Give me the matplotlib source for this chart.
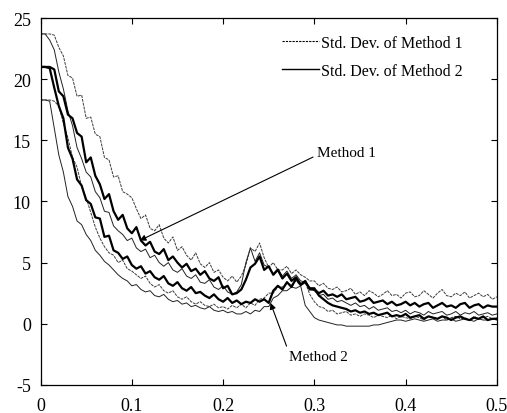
import numpy as np
import matplotlib
matplotlib.use("Agg")
import matplotlib.pyplot as plt
from matplotlib.lines import Line2D

plt.rcParams['font.family'] = ['Liberation Serif', 'DejaVu Serif']

# x ticks / y ticks
x_ticks = [0, 0.1, 0.2, 0.3, 0.4, 0.5]
x_tick_labels = ["0", "0.1", "0.2", "0.3", "0.4", "0.5"]
y_ticks = [-5, 0, 5, 10, 15, 20, 25]
y_tick_labels = ["-5", "0", "5", "10", "15", "20", "25"]

# Series sampled every 0.005 on x in [0, 0.5]
m1_upper = [23.7, 23.7, 23.7, 23.6, 22.6, 21.9, 20.3, 20.1, 18.6, 18.7,
            16.8, 16.9, 15.5, 15.3, 13.6, 13.4, 12.0, 12.1, 10.8, 10.6,
            10.3, 9.4, 8.6, 8.9, 7.8, 7.6, 8.1, 7.0, 6.6, 7.1,
            6.0, 6.3, 5.6, 5.2, 5.8, 4.9, 4.6, 5.0, 4.2, 4.4,
            3.8, 3.5, 3.9, 3.4,
            3.9, 4.8, 6.2, 5.9, 6.6, 5.4, 4.6, 5.0, 4.4, 4.4, 4.7, 4.1, 4.4, 4.0, 3.8, 3.5,
            3.5, 3.1, 3.3, 2.9, 2.8, 3.0, 2.6, 2.7, 2.9, 2.4,
            2.6, 2.3, 2.7, 2.5, 2.2, 2.4, 2.7, 2.3, 2.4, 2.1,
            2.5, 2.6, 2.2, 2.3, 2.7, 2.4, 2.1, 2.5, 2.8, 2.3,
            2.2, 2.5, 2.3, 2.6, 2.1, 2.3, 2.5, 2.2, 2.4, 2.0,
            2.2]
m1_mean = [21.0, 21.0, 21.0, 20.8, 19.0, 18.6, 17.1, 16.8, 15.6, 15.3,
           13.2, 13.6, 12.1, 11.4, 10.2, 10.6, 9.2, 8.5, 8.9, 7.8,
           7.4, 7.9, 6.8, 6.4, 6.7, 5.9, 5.7, 6.1, 5.2, 5.5,
           5.0, 4.6, 4.9, 4.3, 4.5, 4.0, 4.3, 3.7, 3.5, 3.8,
           2.9, 3.1, 2.4, 2.5,
           2.8, 3.6, 4.6, 4.9, 5.5, 4.4, 4.7, 4.0, 4.4, 3.7, 4.1, 3.5, 3.8, 3.2, 3.5, 2.8,
           2.8, 2.5, 2.7, 2.3, 2.4, 2.2, 2.4, 2.0, 2.1, 2.2,
           1.8, 1.9, 2.1, 1.7, 1.8, 1.9, 1.6, 1.8, 1.5, 1.6,
           1.8, 1.5, 1.7, 1.4, 1.6, 1.7, 1.3, 1.5, 1.7, 1.4,
           1.5, 1.3, 1.6, 1.7, 1.3, 1.5, 1.6, 1.3, 1.5, 1.4,
           1.4]
m2_upper = [23.7, 23.7, 23.2, 22.4, 20.6, 19.2, 17.4, 16.2, 14.4, 13.5,
            12.4, 12.0, 10.8, 10.3, 9.2, 9.1,
            8.0, 7.6, 7.3, 6.8, 7.0, 6.2, 5.9, 6.1, 5.4, 5.6,
            5.0, 4.7, 5.0, 4.4, 4.2, 4.5, 3.9, 3.7, 4.0, 3.4,
            3.3, 3.6, 3.0, 2.8, 3.1, 2.6, 2.4, 2.6,
            3.2, 5.0, 6.2, 5.1, 5.8, 4.8, 4.6, 4.1, 4.5, 3.9, 4.3, 3.7, 4.0, 3.5, 3.4, 2.9,
            2.7, 2.3, 2.4, 2.0, 2.1, 1.8, 1.9, 1.7, 1.5, 1.7,
            1.4, 1.5, 1.2, 1.4, 1.1, 1.2, 1.3, 1.0, 1.1, 0.9,
            1.1, 0.8, 1.0, 0.9, 0.7, 1.0, 0.8, 0.9, 1.0, 0.7,
            0.8, 1.0, 0.7, 0.9, 0.8, 1.0, 0.7, 0.8, 0.9, 0.7,
            0.8]
m2_mean = [21.0, 21.0, 20.9, 19.3, 17.8, 16.8, 14.4, 13.5, 11.8, 11.3,
           10.1, 9.8, 8.7, 8.6, 7.1, 7.2,
           6.0, 5.8, 5.3, 5.5, 4.8, 4.5, 4.7, 4.1, 4.3, 3.8,
           3.6, 3.9, 3.3, 3.1, 3.4, 2.9, 2.7, 3.0, 2.5, 2.6,
           2.3, 2.1, 2.4, 2.0, 1.8, 2.1, 1.7, 1.9, 1.6, 1.8,
           1.7, 2.0, 1.8, 2.0,
           1.7, 2.7, 3.1, 2.8, 3.4, 3.0, 3.7, 3.2, 3.4, 2.9,
           2.9, 2.3, 2.0, 1.7, 1.5, 1.4, 1.3, 1.2, 1.0, 1.1,
           0.9, 1.0, 0.8, 0.9, 0.7, 0.8, 0.9, 0.6, 0.7, 0.6,
           0.8, 0.5, 0.6, 0.7, 0.4, 0.6, 0.5, 0.4, 0.6, 0.5,
           0.3, 0.5, 0.6, 0.4, 0.3, 0.5, 0.4, 0.6, 0.3, 0.4,
           0.4]
m1_lower = [18.3, 18.3, 18.3, 18.2, 17.8, 16.4, 15.2, 13.6, 12.8, 11.2,
            10.3, 9.1, 7.9, 7.0, 6.3, 5.8, 5.6, 5.0, 5.2, 4.5,
            4.3, 4.0, 3.7, 3.9, 3.3, 3.0, 3.2, 2.7, 2.5, 2.7,
            2.2, 2.0, 2.2, 1.8, 1.6, 1.8, 1.5, 1.4, 1.6, 1.3,
            1.4, 1.2, 1.5, 1.3,
            1.6, 1.3, 1.7, 1.5, 2.0, 2.1, 2.5, 2.5, 3.0, 3.0, 3.3, 3.2, 3.5, 3.1, 3.4, 2.4,
            1.8, 1.4, 1.3, 1.0, 1.1, 0.8, 0.9, 1.0, 0.7, 0.8,
            0.6, 0.8, 0.7, 0.5, 0.7, 0.6, 0.5, 0.7, 0.4, 0.6,
            0.5, 0.4, 0.6, 0.5, 0.3, 0.6, 0.5, 0.4, 0.6, 0.3,
            0.5, 0.6, 0.4, 0.5, 0.3, 0.6, 0.4, 0.5, 0.6, 0.4,
            0.5]
m2_lower = [18.3, 18.3, 18.2, 16.0, 13.8, 12.4, 10.4, 9.6, 8.4, 8.1,
            7.3, 6.8, 6.0, 5.6, 5.1, 4.8, 4.4, 4.0, 3.7, 3.5,
            3.1, 3.2, 2.8, 2.6, 2.7, 2.3, 2.2, 2.4, 2.0, 1.8,
            1.9, 1.6, 1.7, 1.4, 1.5, 1.3, 1.2, 1.4, 1.1, 1.0,
            1.1, 0.9, 1.0, 0.8,
            0.8, 1.0, 0.8, 1.1, 1.0, 1.4, 1.4, 2.1, 2.3, 2.7, 2.7, 3.0, 2.9, 3.1, 1.5, 1.0,
            0.5, 0.3, 0.2, 0.1, 0.0, -0.1, -0.1, -0.2, -0.2, -0.2,
            -0.2, -0.2, -0.2, -0.1, -0.1, 0.0, 0.1, 0.2, 0.3, 0.3,
            0.2, 0.3, 0.4, 0.3, 0.2, 0.3, 0.4, 0.2, 0.3, 0.3,
            0.4, 0.2, 0.3, 0.4, 0.3, 0.2, 0.4, 0.3, 0.3, 0.4,
            0.3]

legend_labels = ["Std. Dev. of Method 1", "Std. Dev. of Method 2"]

fig = plt.figure(figsize=(5.07, 4.14), dpi=100)
ax = fig.add_axes([0.080, 0.068, 0.900, 0.886])

def xs(s):
    return np.linspace(0, 0.5, len(s))

thin_dash = dict(color='#3a3a3a', lw=0.7, ls=(0, (3, 1)))
thin_solid = dict(color='#222222', lw=0.7, ls='-')
thick = dict(color='black', lw=1.6, ls='-')

ax.plot(xs(m1_upper), m1_upper, **thin_dash)
ax.plot(xs(m1_lower), m1_lower, **thin_dash)
ax.plot(xs(m2_upper), m2_upper, **thin_solid)
ax.plot(xs(m2_lower), m2_lower, **thin_solid)
ax.plot(xs(m1_mean), m1_mean, **thick)
ax.plot(xs(m2_mean), m2_mean, **thick)

ax.set_xlim(0, 0.5)
ax.set_ylim(-5, 25)
ax.set_xticks(x_ticks)
ax.set_xticklabels(x_tick_labels)
ax.set_yticks(y_ticks)
ax.set_yticklabels(y_tick_labels)
ax.tick_params(direction='in', top=True, right=True, length=4, width=0.8,
               labelsize=13, pad=7)
ax.tick_params(axis='x', pad=9)
for sp in ax.spines.values():
    sp.set_linewidth(0.9)

handles = [Line2D([], [], color='black', lw=0.8, ls=(0, (2, 1))),
           Line2D([], [], color='black', lw=1.0, ls='-')]
ax.legend(handles, legend_labels, loc='upper left', bbox_to_anchor=(0.53, 0.955),
          frameon=False, fontsize=11.5, handlelength=2.3, handletextpad=0.1,
          labelspacing=0.75, borderpad=0, borderaxespad=0)

ax.annotate("Method 1", xy=(0.1086, 6.8), xytext=(0.303, 14.0),
            fontsize=11, ha='left', va='center',
            arrowprops=dict(arrowstyle='-|>', color='black', lw=0.8,
                            mutation_scale=9, shrinkA=1, shrinkB=0,
                            relpos=(0, 0.3)))
ax.annotate("Method 2", xy=(0.252, 1.7), xytext=(0.272, -2.7),
            fontsize=11, ha='left', va='center',
            arrowprops=dict(arrowstyle='-|>', color='black', lw=0.8,
                            mutation_scale=9, shrinkA=1, shrinkB=0,
                            relpos=(0, 0.85)))

fig.savefig("out.png", dpi=100)
